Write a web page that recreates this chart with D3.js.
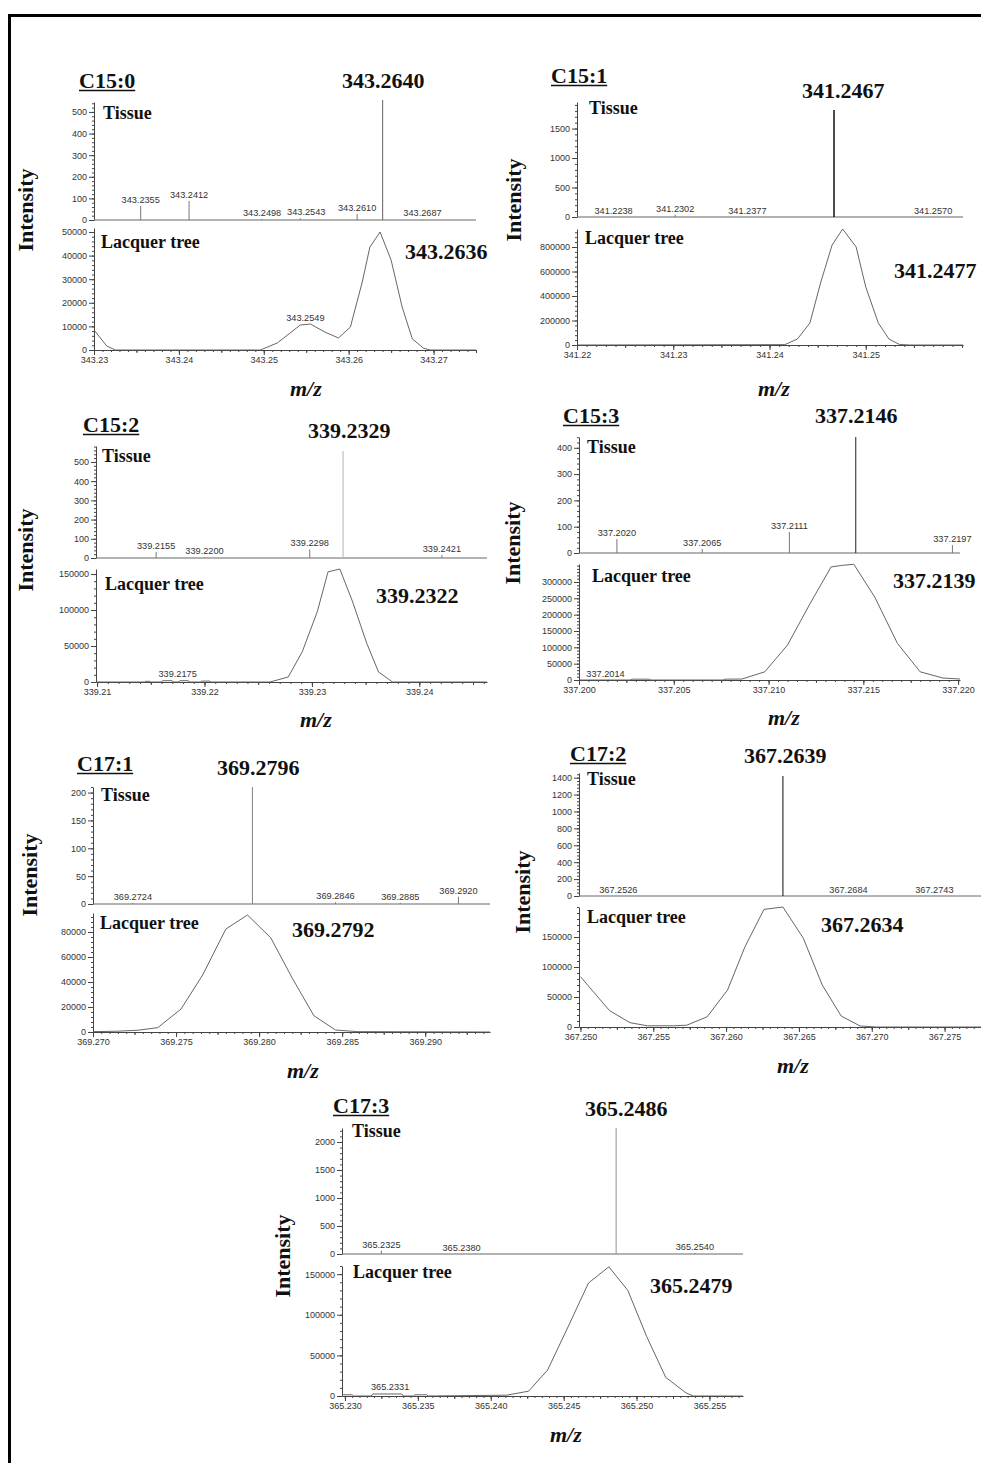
<!DOCTYPE html>
<html>
<head>
<meta charset="utf-8">
<script src="https://cdn.jsdelivr.net/npm/d3@7"></script>
<style>
body { margin: 0; background: #fff; }
svg { display: block; }
</style>
</head>
<body>
<svg id="chart" width="981" height="1463"></svg>
<script>
// ---- data: [m/z, intensity] ----
// C15:0
var c150Tissue = [[343.2355, 65], [343.2412, 88], [343.2498, 5], [343.2543, 8], [343.2610, 28], [343.2687, 3]];
var c150TissueMain = [343.2640, 555];
var c150Lacquer = [[343.2300, 8500], [343.2315, 1700], [343.2325, 0], [343.2496, 0], [343.2516, 3000], [343.2531, 7200],
  [343.2543, 10600], [343.2555, 11000], [343.2572, 7600], [343.2588, 5100], [343.2602, 9700], [343.2616, 28800],
  [343.2625, 43600], [343.2637, 50000], [343.2650, 38100], [343.2663, 18200], [343.2675, 4700], [343.2688, 800],
  [343.2696, 0], [343.2750, 0]];
var c150LacquerPeak = 343.2636;
var c150LacquerNote = [343.2549, 11000];
var c150TissueTicks = [0, 100, 200, 300, 400, 500];
var c150LacquerTicks = [0, 10000, 20000, 30000, 40000, 50000];
var c150XTicks = [343.23, 343.24, 343.25, 343.26, 343.27];

// C15:1
var c151Tissue = [[341.2238, 5], [341.2302, 40], [341.2377, 5], [341.2570, 5]];
var c151TissueMain = [341.2467, 1813];
var c151Lacquer = [[341.2200, 0], [341.2416, 3000], [341.2429, 49000], [341.2442, 180000], [341.2453, 506000],
  [341.2465, 816000], [341.2476, 947000], [341.2490, 800000], [341.2500, 473000], [341.2513, 180000],
  [341.2524, 49000], [341.2535, 4000], [341.2546, 0], [341.2601, 0]];
var c151LacquerPeak = 341.2477;
var c151LacquerNote = null;
var c151TissueTicks = [0, 500, 1000, 1500];
var c151LacquerTicks = [0, 200000, 400000, 600000, 800000];
var c151XTicks = [341.22, 341.23, 341.24, 341.25];

// C15:2
var c152Tissue = [[339.2155, 30], [339.2200, 3], [339.2298, 45], [339.2421, 15]];
var c152TissueMain = [339.2329, 557];
var c152Lacquer = [[339.2099, 0], [339.2144, 0], [339.2145, 900], [339.2149, 900], [339.2150, 0],
  [339.2160, 0], [339.2161, 1800], [339.2170, 1800], [339.2171, 0], [339.2176, 0], [339.2177, 1800],
  [339.2185, 1800], [339.2186, 0], [339.2196, 0], [339.2197, 1200], [339.2205, 1200], [339.2206, 0],
  [339.2261, 0], [339.2278, 7000], [339.2291, 42000], [339.2305, 97600], [339.2315, 153000], [339.2326, 157000],
  [339.2338, 111000], [339.2351, 54000], [339.2362, 14000], [339.2375, 0], [339.2463, 0]];
var c152LacquerPeak = 339.2322;
var c152LacquerNote = [339.2175, 1800];
var c152TissueTicks = [0, 100, 200, 300, 400, 500];
var c152LacquerTicks = [0, 50000, 100000, 150000];
var c152XTicks = [339.21, 339.22, 339.23, 339.24];

// C15:3
var c153Tissue = [[337.2020, 53], [337.2065, 15], [337.2111, 80], [337.2197, 30]];
var c153TissueMain = [337.2146, 441];
var c153Lacquer = [[337.2000, 0], [337.2027, 0], [337.2028, 2500], [337.2037, 2500], [337.2038, 0],
  [337.2076, 0], [337.2077, 2500], [337.2086, 3000], [337.2098, 25000], [337.2110, 107000], [337.2122, 235000],
  [337.2133, 346000], [337.2139, 351000], [337.2145, 354000], [337.2156, 254000], [337.2168, 112000],
  [337.2180, 25000], [337.2192, 6000], [337.2201, 3000]];
var c153LacquerPeak = 337.2139;
var c153LacquerNote = [337.2014, 0];
var c153TissueTicks = [0, 100, 200, 300, 400];
var c153LacquerTicks = [0, 50000, 100000, 150000, 200000, 250000, 300000];
var c153XTicks = [337.200, 337.205, 337.210, 337.215, 337.220];

// C17:1
var c171Tissue = [[369.2724, 2], [369.2846, 3], [369.2885, 2], [369.2920, 13]];
var c171TissueMain = [369.2796, 210];
var c171Lacquer = [[369.2700, 300], [369.2714, 600], [369.2727, 1400], [369.2739, 3500], [369.2753, 18400],
  [369.2766, 45600], [369.2780, 82400], [369.2793, 93600], [369.2807, 75400], [369.2820, 43000],
  [369.2833, 13000], [369.2846, 1600], [369.2859, 300], [369.2939, 0]];
var c171LacquerPeak = 369.2792;
var c171LacquerNote = null;
var c171TissueTicks = [0, 50, 100, 150, 200];
var c171LacquerTicks = [0, 20000, 40000, 60000, 80000];
var c171XTicks = [369.270, 369.275, 369.280, 369.285, 369.290];

// C17:2
var c172Tissue = [[367.2526, 0], [367.2684, 0], [367.2743, 0]];
var c172TissueMain = [367.2639, 1420];
var c172Lacquer = [[367.2500, 83900], [367.2520, 27200], [367.2534, 7200], [367.2546, 2000], [367.2564, 2000],
  [367.2573, 3000], [367.2587, 17000], [367.2601, 61700], [367.2613, 134000], [367.2626, 196000],
  [367.2639, 200000], [367.2653, 148000], [367.2666, 70000], [367.2679, 18300], [367.2692, 1700],
  [367.2703, 0], [367.2775, 0]];
var c172LacquerPeak = 367.2634;
var c172LacquerNote = null;
var c172TissueTicks = [0, 200, 400, 600, 800, 1000, 1200, 1400];
var c172LacquerTicks = [0, 50000, 100000, 150000];
var c172XTicks = [367.250, 367.255, 367.260, 367.265, 367.270, 367.275];

// C17:3
var c173Tissue = [[365.2325, 60], [365.2380, 2], [365.2540, 20]];
var c173TissueMain = [365.2486, 2250];
var c173Lacquer = [[365.2298, 0], [365.2299, 1500], [365.2305, 1500], [365.2306, 0], [365.2318, 0],
  [365.2319, 2500], [365.2339, 2500], [365.2340, 0], [365.2347, 0], [365.2348, 1500], [365.2356, 1500],
  [365.2357, 0], [365.2411, 1000], [365.2426, 6000], [365.2439, 32000], [365.2453, 85000], [365.2467, 139000],
  [365.2481, 159000], [365.2494, 130000], [365.2507, 73000], [365.2520, 23000], [365.2534, 3700],
  [365.2539, 0], [365.2573, 0]];
var c173LacquerPeak = 365.2479;
var c173LacquerNote = [365.2331, 2500];
var c173TissueTicks = [0, 500, 1000, 1500, 2000];
var c173LacquerTicks = [0, 50000, 100000, 150000];
var c173XTicks = [365.230, 365.235, 365.240, 365.245, 365.250, 365.255];

// ---- layout of each panel (pixels) ----
var panels = [
  { title: "C15:0", tissue: c150Tissue, main: c150TissueMain, lacquer: c150Lacquer, lqPeak: c150LacquerPeak, note: c150LacquerNote,
    tTicks: c150TissueTicks, lTicks: c150LacquerTicks, xTicks: c150XTicks, xFmt: ".2f",
    xDomain: [343.23, 343.2750], tMax: 546, lMax: 51700, tMinor: 20, lMinor: 2000, xMinor: 0.001, xMid: 0.005,
    x0: 94, x1: 476, tTop: 102, tZero: 220, lTop: 228, lZero: 350,
    titlePos: [79, 88], mainPos: [342, 88], lqPos: [405, 259], tissuePos: [103, 119], lacquerPos: [101, 248],
    intPos: [32.5, 210], mzPos: [290, 396], peakColor: "#707070", nudge: { "343.2543": 6 } },
  { title: "C15:1", tissue: c151Tissue, main: c151TissueMain, lacquer: c151Lacquer, lqPeak: c151LacquerPeak, note: c151LacquerNote,
    tTicks: c151TissueTicks, lTicks: c151LacquerTicks, xTicks: c151XTicks, xFmt: ".2f",
    xDomain: [341.22, 341.2601], tMax: 1950, lMax: 947000, tMinor: 100, lMinor: 40000, xMinor: 0.001, xMid: 0.005,
    x0: 577, x1: 963, tTop: 102, tZero: 217, lTop: 229, lZero: 345,
    titlePos: [551, 83], mainPos: [802, 98], lqPos: [894, 278], tissuePos: [589, 114], lacquerPos: [585, 244],
    intPos: [521, 200], mzPos: [758, 396], peakColor: "#111" },
  { title: "C15:2", tissue: c152Tissue, main: c152TissueMain, lacquer: c152Lacquer, lqPeak: c152LacquerPeak, note: c152LacquerNote,
    tTicks: c152TissueTicks, lTicks: c152LacquerTicks, xTicks: c152XTicks, xFmt: ".2f",
    xDomain: [339.2099, 339.2463], tMax: 583, lMax: 157000, tMinor: 20, lMinor: 10000, xMinor: 0.001, xMid: 0.005,
    x0: 96, x1: 487, tTop: 446, tZero: 558, lTop: 569, lZero: 682,
    titlePos: [83, 432], mainPos: [308, 438], lqPos: [376, 603], tissuePos: [102, 462], lacquerPos: [105, 590],
    intPos: [32.5, 550], mzPos: [300, 727], peakColor: "#b8b8b8" },
  { title: "C15:3", tissue: c153Tissue, main: c153TissueMain, lacquer: c153Lacquer, lqPeak: c153LacquerPeak, note: c153LacquerNote,
    tTicks: c153TissueTicks, lTicks: c153LacquerTicks, xTicks: c153XTicks, xFmt: ".3f",
    xDomain: [337.200, 337.2201], tMax: 441, lMax: 355000, tMinor: 20, lMinor: 10000, xMinor: 0.0005, xMid: 0.0025,
    x0: 579, x1: 960, tTop: 437, tZero: 553, lTop: 564, lZero: 680,
    titlePos: [563, 423], mainPos: [815, 423], lqPos: [893, 588], tissuePos: [587, 453], lacquerPos: [592, 582],
    intPos: [519.5, 543], mzPos: [768, 725], peakColor: "#333" },
  { title: "C17:1", tissue: c171Tissue, main: c171TissueMain, lacquer: c171Lacquer, lqPeak: c171LacquerPeak, note: c171LacquerNote,
    tTicks: c171TissueTicks, lTicks: c171LacquerTicks, xTicks: c171XTicks, xFmt: ".3f",
    xDomain: [369.270, 369.2939], tMax: 210, lMax: 95200, tMinor: 10, lMinor: 4000, xMinor: 0.0005, xMid: 0.0025,
    x0: 93, x1: 490, tTop: 787, tZero: 904, lTop: 913, lZero: 1032,
    titlePos: [77, 771], mainPos: [217, 775], lqPos: [292, 937], tissuePos: [101, 801], lacquerPos: [100, 929],
    intPos: [36.5, 875], mzPos: [287, 1078], peakColor: "#8a8a8a" },
  { title: "C17:2", tissue: c172Tissue, main: c172TissueMain, lacquer: c172Lacquer, lqPeak: c172LacquerPeak, note: c172LacquerNote,
    tTicks: c172TissueTicks, lTicks: c172LacquerTicks, xTicks: c172XTicks, xFmt: ".3f",
    xDomain: [367.2499, 367.2775], tMax: 1455, lMax: 200000, tMinor: 40, lMinor: 10000, xMinor: 0.0005, xMid: 0.0025,
    x0: 579, x1: 981, tTop: 773, tZero: 896, lTop: 907, lZero: 1027,
    titlePos: [570, 761], mainPos: [744, 763], lqPos: [821, 932], tissuePos: [587, 785], lacquerPos: [587, 923],
    intPos: [529.5, 892], mzPos: [777, 1073], peakColor: "#222" },
  { title: "C17:3", tissue: c173Tissue, main: c173TissueMain, lacquer: c173Lacquer, lqPeak: c173LacquerPeak, note: c173LacquerNote,
    tTicks: c173TissueTicks, lTicks: c173LacquerTicks, xTicks: c173XTicks, xFmt: ".3f",
    xDomain: [365.2298, 365.2573], tMax: 2250, lMax: 160000, tMinor: 100, lMinor: 10000, xMinor: 0.0005, xMid: 0.0025,
    x0: 342, x1: 743, tTop: 1128, tZero: 1254, lTop: 1266, lZero: 1396,
    titlePos: [333, 1113], mainPos: [585, 1116], lqPos: [650, 1293], tissuePos: [352, 1137], lacquerPos: [353, 1278],
    intPos: [289.5, 1256], mzPos: [550, 1442], peakColor: "#9a9a9a" }
];

var serif = "'Liberation Serif', 'Times New Roman', Times, serif";
var sans = "'Liberation Sans', Arial, Helvetica, sans-serif";
var axisColor = "#444";
var textColor = "#333";
var mzFormat = d3.format(".4f");

var svg = d3.select("#chart");
svg.append("rect").attr("width", 981).attr("height", 1463).attr("fill", "#fff");

// outer frame (left and top edge only, the rest is cut off)
svg.append("path")
  .attr("d", "M9.5,1463V15.5H981")
  .attr("fill", "none")
  .attr("stroke", "#000")
  .attr("stroke-width", 3);

function stepValues(domain, step) {
  var i0 = Math.ceil(domain[0] / step - 1e-6);
  var i1 = Math.floor(domain[1] / step + 1e-6);
  return d3.range(i0, i1 + 1).map(function (i) { return i * step; });
}

function styleAxis(sel) {
  sel.select(".domain").attr("stroke", axisColor);
  sel.selectAll(".tick line").attr("stroke", axisColor);
  sel.selectAll(".tick text")
    .attr("fill", textColor)
    .style("font-family", sans)
    .style("font-size", "9px");
}

function drawYAxis(g, y, x0, ticks, minor) {
  var minorAxis = d3.axisLeft(y)
    .tickValues(stepValues(y.domain(), minor))
    .tickSize(2)
    .tickSizeOuter(0)
    .tickFormat("");
  var m = g.append("g").attr("transform", "translate(" + x0 + ",0)").call(minorAxis);
  m.select(".domain").remove();
  m.selectAll(".tick line").attr("stroke", axisColor);

  var majorAxis = d3.axisLeft(y)
    .tickValues(ticks)
    .tickSize(5)
    .tickSizeOuter(0)
    .tickPadding(2)
    .tickFormat(d3.format("d"));
  g.append("g").attr("transform", "translate(" + x0 + ",0)").call(majorAxis).call(styleAxis);
}

function drawPanel(p, idx) {
  var g = svg.append("g").attr("class", "panel");
  var x = d3.scaleLinear().domain(p.xDomain).range([p.x0, p.x1]);
  var yT = d3.scaleLinear().domain([0, p.tMax]).range([p.tZero, p.tTop]);
  var yL = d3.scaleLinear().domain([0, p.lMax]).range([p.lZero, p.lTop]);
  var nudge = p.nudge || {};

  // --- tissue spectrum ---
  drawYAxis(g, yT, p.x0, p.tTicks, p.tMinor);
  g.append("line")
    .attr("x1", p.x0).attr("x2", p.x1)
    .attr("y1", p.tZero).attr("y2", p.tZero)
    .attr("stroke", "#666").attr("stroke-width", 1);

  g.selectAll(".small-peak")
    .data(p.tissue)
    .enter().append("line")
    .attr("class", "small-peak")
    .attr("x1", function (d) { return x(d[0]); })
    .attr("x2", function (d) { return x(d[0]); })
    .attr("y1", yT(0))
    .attr("y2", function (d) { return yT(d[1]); })
    .attr("stroke", "#777").attr("stroke-width", 1);

  g.selectAll(".peak-label")
    .data(p.tissue)
    .enter().append("text")
    .attr("class", "peak-label")
    .attr("x", function (d) { return x(d[0]) + (nudge[mzFormat(d[0])] || 0); })
    .attr("y", function (d) { return yT(d[1]) - 3; })
    .attr("text-anchor", "middle")
    .attr("fill", textColor)
    .style("font-family", sans)
    .style("font-size", "9.2px")
    .text(function (d) { return mzFormat(d[0]); });

  g.append("line")
    .datum(p.main)
    .attr("x1", function (d) { return x(d[0]); })
    .attr("x2", function (d) { return x(d[0]); })
    .attr("y1", yT(0))
    .attr("y2", function (d) { return yT(d[1]); })
    .attr("stroke", p.peakColor)
    .attr("stroke-width", idx === 1 ? 1.5 : 1.1);

  // --- lacquer tree profile ---
  drawYAxis(g, yL, p.x0, p.lTicks, p.lMinor);

  // clip box is in the axis group's own (translated) coordinates;
  // it cuts a label that runs past the right end, as in the figure
  var clipId = "clip" + idx;
  svg.append("clipPath").attr("id", clipId)
    .append("rect")
    .attr("x", p.x0 - 40).attr("y", -5)
    .attr("width", p.x1 - p.x0 + 58).attr("height", 30);

  var xMinorAxis = d3.axisBottom(x)
    .tickValues(stepValues(p.xDomain, p.xMinor))
    .tickSize(2).tickSizeOuter(0).tickFormat("");
  var xm = g.append("g").attr("transform", "translate(0," + p.lZero + ")").call(xMinorAxis);
  xm.select(".domain").remove();
  xm.selectAll(".tick line").attr("stroke", axisColor);

  var xMidAxis = d3.axisBottom(x)
    .tickValues(stepValues(p.xDomain, p.xMid))
    .tickSize(3).tickSizeOuter(0).tickFormat("");
  var xd = g.append("g").attr("transform", "translate(0," + p.lZero + ")").call(xMidAxis);
  xd.select(".domain").remove();
  xd.selectAll(".tick line").attr("stroke", axisColor);

  var xAxis = d3.axisBottom(x)
    .tickValues(p.xTicks)
    .tickSize(5).tickSizeOuter(0).tickPadding(2)
    .tickFormat(d3.format(p.xFmt));
  g.append("g")
    .attr("transform", "translate(0," + p.lZero + ")")
    .attr("clip-path", "url(#" + clipId + ")")
    .call(xAxis).call(styleAxis);

  var line = d3.line()
    .x(function (d) { return x(d[0]); })
    .y(function (d) { return yL(d[1]); });
  g.append("path")
    .datum(p.lacquer)
    .attr("d", line)
    .attr("fill", "none")
    .attr("stroke", "#555")
    .attr("stroke-width", 0.9);

  if (p.note) {
    g.append("text")
      .datum(p.note)
      .attr("x", function (d) { return x(d[0]); })
      .attr("y", function (d) { return yL(d[1]) - 3.5; })
      .attr("text-anchor", "middle")
      .attr("fill", textColor)
      .style("font-family", sans)
      .style("font-size", "9.2px")
      .text(function (d) { return mzFormat(d[0]); });
  }

  // --- text ---
  var title = g.append("text")
    .attr("x", p.titlePos[0]).attr("y", p.titlePos[1])
    .style("font-family", serif).style("font-weight", "bold").style("font-size", "22px")
    .attr("fill", "#111")
    .text(p.title);
  var tw = title.node().getComputedTextLength();
  g.append("line")
    .attr("x1", p.titlePos[0]).attr("x2", p.titlePos[0] + tw)
    .attr("y1", p.titlePos[1] + 2.5).attr("y2", p.titlePos[1] + 2.5)
    .attr("stroke", "#111").attr("stroke-width", 1.6);

  g.append("text")
    .attr("x", p.mainPos[0]).attr("y", p.mainPos[1])
    .style("font-family", serif).style("font-weight", "bold").style("font-size", "22px")
    .attr("fill", "#111")
    .text(mzFormat(p.main[0]));

  g.append("text")
    .attr("x", p.lqPos[0]).attr("y", p.lqPos[1])
    .style("font-family", serif).style("font-weight", "bold").style("font-size", "22px")
    .attr("fill", "#111")
    .text(mzFormat(p.lqPeak));

  g.append("text")
    .attr("x", p.tissuePos[0]).attr("y", p.tissuePos[1])
    .style("font-family", serif).style("font-weight", "bold").style("font-size", "18px")
    .attr("fill", "#111")
    .text("Tissue");

  g.append("text")
    .attr("x", p.lacquerPos[0]).attr("y", p.lacquerPos[1])
    .style("font-family", serif).style("font-weight", "bold").style("font-size", "18px")
    .attr("fill", "#111")
    .text("Lacquer tree");

  g.append("text")
    .attr("transform", "translate(" + p.intPos[0] + "," + p.intPos[1] + ") rotate(-90)")
    .attr("text-anchor", "middle")
    .style("font-family", serif).style("font-weight", "bold").style("font-size", "22px")
    .attr("fill", "#111")
    .text("Intensity");

  g.append("text")
    .attr("x", p.mzPos[0]).attr("y", p.mzPos[1])
    .style("font-family", serif).style("font-weight", "bold").style("font-style", "italic").style("font-size", "22px")
    .attr("fill", "#111")
    .text("m/z");
}

panels.forEach(drawPanel);
</script>
</body>
</html>
